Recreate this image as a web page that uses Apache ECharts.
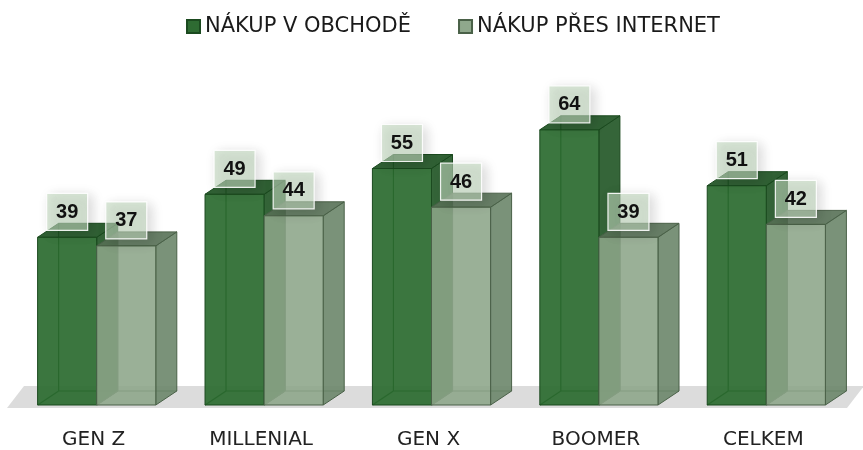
<!DOCTYPE html>
<html lang="cs">
<head>
<meta charset="utf-8">
<title>Nákup</title>
<script src="https://cdn.jsdelivr.net/npm/echarts@6/dist/echarts.min.js"></script>
<style>
  html, body { margin: 0; padding: 0; background: #fff; }
  #chart { width: 863px; height: 450px; }
</style>
</head>
<body>
<div id="chart"></div>
<script>
    // data
    var categories = ['GEN Z', 'MILLENIAL', 'GEN X', 'BOOMER', 'CELKEM'];
    var seriesNames = ['NÁKUP V OBCHODĚ', 'NÁKUP PŘES INTERNET'];
    var obchod = [39, 49, 55, 64, 51];
    var internet = [37, 44, 46, 39, 42];

    var DX = 21, DY = -14;   // hloubka kvádru

    var palette = [
        { front: 'rgba(42,106,47,0.92)', top: 'rgba(32,84,36,0.92)', side: 'rgba(36,88,40,0.92)', edge: '#1b4a1f', legend: '#2e6b32' },
        { front: 'rgba(140,165,137,0.88)', top: 'rgba(88,113,86,0.9)', side: 'rgba(108,134,106,0.9)', edge: '#4a6148', legend: '#8fa88c' }
    ];

    function makeBox(idx) {
        return function (params, api) {
            var cat = api.value(0), val = api.value(1);
            var topPt = api.coord([cat, val]);
            var basePt = api.coord([cat, 0]);
            var band = api.size([1, 0])[0];
            var w = band * 0.353;
            var x0 = topPt[0] - band * 0.335 + idx * w;
            var x1 = x0 + w;
            var yT = topPt[1], yB = basePt[1];
            var c = palette[idx];
            var cx = (x0 + x1) / 2;
            var lineStyle = { stroke: c.edge, lineWidth: 1.2, fill: null };
            return {
                type: 'group',
                children: [
                    // zadni hrany (prosvitaji)
                    { type: 'line', shape: { x1: x0 + DX, y1: yB + DY, x2: x0 + DX, y2: yT + DY }, style: lineStyle },
                    { type: 'line', shape: { x1: x0 + DX, y1: yB + DY, x2: x1 + DX, y2: yB + DY }, style: lineStyle },
                    { type: 'line', shape: { x1: x0, y1: yB, x2: x0 + DX, y2: yB + DY }, style: lineStyle },
                    {
                        type: 'polygon',
                        shape: { points: [[x1, yT], [x1 + DX, yT + DY], [x1 + DX, yB + DY], [x1, yB]] },
                        style: { fill: c.side, stroke: c.edge, lineWidth: 1 }
                    },
                    {
                        type: 'polygon',
                        shape: { points: [[x0, yT], [x1, yT], [x1 + DX, yT + DY], [x0 + DX, yT + DY]] },
                        style: { fill: c.top, stroke: c.edge, lineWidth: 1 }
                    },
                    {
                        type: 'rect',
                        shape: { x: x0, y: yT, width: w, height: yB - yT },
                        style: { fill: c.front, stroke: c.edge, lineWidth: 1 }
                    },
                    // stitek
                    {
                        type: 'rect',
                        shape: { x: cx - 20.5, y: yT - 7 - 37, width: 41, height: 37 },
                        style: {
                            fill: 'rgba(196,220,194,0.6)', stroke: 'rgba(255,255,255,0.9)', lineWidth: 1.2,
                            shadowBlur: 12, shadowColor: 'rgba(0,0,0,0.25)', shadowOffsetX: 4, shadowOffsetY: 3
                        }
                    },
                    {
                        type: 'text',
                        x: cx, y: yT - 7 - 18,
                        style: {
                            text: String(val), fill: '#111',
                            font: 'bold 20px "Liberation Sans", Arial, sans-serif',
                            align: 'center', verticalAlign: 'middle'
                        }
                    }
                ]
            };
        };
    }

    function renderFloor(params, api) {
        var cs = params.coordSys;
        var yF = cs.y + cs.height + 3;
        var left = cs.x - 3, right = cs.x + cs.width;
        return {
            type: 'polygon',
            shape: { points: [[left, yF], [right, yF], [right + 17, yF - 22], [left + 17, yF - 22]] },
            style: { fill: '#dcdcdc' }
        };
    }

    var chart = echarts.init(document.getElementById('chart'));
    chart.setOption({
        animation: false,
        legend: {
            data: seriesNames,
            top: 11,
            left: 181,
            icon: 'rect',
            itemWidth: 13,
            itemHeight: 13,
            itemGap: 47,
            textStyle: { fontSize: 21, color: '#1a1a1a', fontFamily: '"DejaVu Sans"' }
        },
        grid: { left: 10, right: 16, top: 61, bottom: 43 },
        xAxis: {
            type: 'category',
            data: categories,
            axisLine: { show: false },
            axisTick: { show: false },
            axisLabel: { margin: 25, fontSize: 20, color: '#222', fontFamily: '"DejaVu Sans"' }
        },
        yAxis: { type: 'value', min: 0, max: 80, show: false, splitLine: { show: false } },
        series: [
            {
                type: 'custom', name: 'floor', z: 1, silent: true,
                renderItem: renderFloor,
                data: [[0, 0]]
            },
            {
                type: 'custom', name: seriesNames[0], z: 2,
                renderItem: makeBox(0),
                itemStyle: { color: palette[0].legend, borderColor: palette[0].edge, borderWidth: 1 },
                encode: { x: 0, y: 1 },
                data: obchod.map(function (v, i) { return [i, v]; })
            },
            {
                type: 'custom', name: seriesNames[1], z: 3,
                renderItem: makeBox(1),
                itemStyle: { color: palette[1].legend, borderColor: palette[1].edge, borderWidth: 1 },
                encode: { x: 0, y: 1 },
                data: internet.map(function (v, i) { return [i, v]; })
            }
        ]
    });
</script>
</body>
</html>
